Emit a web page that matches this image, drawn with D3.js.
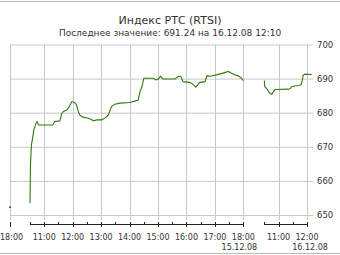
<!DOCTYPE html>
<html>
<head>
<meta charset="utf-8">
<script src="https://cdn.jsdelivr.net/npm/d3@7"></script>
<style>
  body { margin: 0; background: #fff; }
  text { font-family: "DejaVu Sans", Verdana, sans-serif; fill: #333; }
</style>
</head>
<body>
<script>
// chart values
const title = 'Индекс РТС (RTSI)';
const subtitle = 'Последнее значение: 691.24 на 16.12.08 12:10';

const prevCloseTime = '12.12.08 18:00';
const prevCloseValue = 652.3;

const day1Times = ['10:30','10:31','10:33','10:36','10:38','10:43','10:45','10:48','11:18','11:22',
  '11:33','11:37','11:40','11:47','11:51','11:54','11:58','12:01','12:05','12:08',
  '12:12','12:15','12:22','12:33','12:40','12:43','12:51','13:01','13:08','13:15',
  '13:22','13:29','13:40','14:01','14:11','14:18','14:22','14:26','14:30','14:50',
  '14:56','15:01','15:05','15:10','15:36','15:43','15:48','15:53','16:07','16:14',
  '16:20','16:25','16:28','16:39','16:43','16:50','17:03','17:17','17:28','17:35',
  '17:42','17:49','17:56','18:00'];
const day1Values = [653.5,664.7,670.5,673.0,674.9,677.0,677.4,676.4,676.4,677.4,
  677.6,679.8,680.3,680.8,681.3,682.1,683.2,683.2,682.8,682.3,
  680.3,679.3,678.7,678.4,678.0,677.6,677.9,677.9,678.4,679.3,
  681.8,682.5,682.8,683.0,683.4,683.7,686.2,687.6,690.1,690.1,
  689.6,689.9,690.7,689.9,689.9,690.7,690.6,689.1,688.9,688.3,
  687.5,688.4,688.9,689.1,690.8,690.7,691.1,691.6,692.1,691.6,
  691.1,690.8,690.1,689.4];

const day2Times = ['10:30','10:31','10:35','10:38','10:42','10:46','10:49','10:53','11:21','11:24',
  '11:28','11:42','11:48','11:51','11:52','11:56','12:08','12:10'];
const day2Values = [689.4,687.6,687.1,686.4,685.7,685.4,686.2,686.8,686.9,687.0,
  687.7,688.0,688.2,690.2,691.0,691.3,691.2,691.24];

const yTicks = [650, 660, 670, 680, 690, 700];
const day1Label = '15.12.08';
const day2Label = '16.12.08';

// layout
const width = 340, height = 255;
const plotLeft = 10, plotRight = 307, plotTop = 44.5, plotBottom = 215;
const axisY = 224;
const hourW = 28.45;

const parse = d3.timeParse('%d.%m.%y %H:%M');
const fmt = d3.timeFormat('%H:%M');

const day1 = day1Times.map((t, i) => ({date: parse('15.12.08 ' + t), value: day1Values[i]}));
const day2 = day2Times.map((t, i) => ({date: parse('16.12.08 ' + t), value: day2Values[i]}));

// x scale with session breaks
const x = d3.scaleTime()
  .domain([parse(prevCloseTime), parse('15.12.08 10:30'), parse('15.12.08 18:00'),
           parse('16.12.08 10:30'), parse('16.12.08 12:00')])
  .range([plotLeft, 30, 30 + 7.5 * hourW, plotRight - 1.5 * hourW, plotRight]);

const y = d3.scaleLinear()
  .domain([650, 700])
  .range([plotBottom, plotTop]);

const svg = d3.select('body').append('svg')
  .attr('width', width)
  .attr('height', height);

// frame lines
svg.append('line').attr('x1', 0).attr('x2', width).attr('y1', 1.5).attr('y2', 1.5)
  .attr('stroke', '#bbb');
svg.append('line').attr('x1', 0).attr('x2', width).attr('y1', 253.5).attr('y2', 253.5)
  .attr('stroke', '#bbb');

// titles
svg.append('text').attr('x', 170).attr('y', 23.5).attr('text-anchor', 'middle')
  .style('font-size', '11px').text(title);
svg.append('text').attr('x', 170).attr('y', 36).attr('text-anchor', 'middle')
  .style('font-size', '9px').text(subtitle);

// hour grid
const hourTimes = [parse(prevCloseTime)]
  .concat(d3.timeHour.range(parse('15.12.08 11:00'), parse('15.12.08 18:01')))
  .concat(d3.timeHour.range(parse('16.12.08 11:00'), parse('16.12.08 12:01')));

svg.append('g').selectAll('line')
  .data(hourTimes)
  .enter()
  .append('line')
  .attr('x1', d => Math.round(x(d)) + 0.5)
  .attr('x2', d => Math.round(x(d)) + 0.5)
  .attr('y1', plotTop)
  .attr('y2', 220)
  .attr('stroke', '#c8c8c8');

// value grid + right labels
const yAxis = d3.axisRight(y)
  .tickValues(yTicks)
  .tickSize(plotRight + 6 - plotLeft)
  .tickPadding(4)
  .tickFormat(d3.format('d'));

svg.append('g')
  .attr('transform', 'translate(' + plotLeft + ',0)')
  .call(yAxis)
  .call(g => g.select('.domain').remove())
  .call(g => g.selectAll('.tick line').attr('stroke', '#c8c8c8'))
  .call(g => g.selectAll('.tick text').style('font-size', '8.5px').attr('fill', '#333'));

// time axis segments
const sessions = [
  [parse('15.12.08 10:30'), parse('15.12.08 18:00')],
  [parse('16.12.08 10:30'), parse('16.12.08 12:00')]
];

sessions.forEach(s => {
  svg.append('line')
    .attr('x1', x(s[0])).attr('x2', x(s[1]))
    .attr('y1', axisY + 0.5).attr('y2', axisY + 0.5)
    .attr('stroke', '#222');

  const halfHours = d3.timeMinute.every(30).range(s[0], new Date(+s[1] + 1));
  svg.append('g').selectAll('line')
    .data(halfHours)
    .enter()
    .append('line')
    .attr('x1', d => Math.round(x(d)) + 0.5)
    .attr('x2', d => Math.round(x(d)) + 0.5)
    .attr('y1', axisY - 2)
    .attr('y2', d => d.getMinutes() === 0 ? axisY + 3 : axisY + 1)
    .attr('stroke', '#222');
});

// tick for previous close
svg.append('line')
  .attr('x1', Math.round(x(parse(prevCloseTime))) + 0.5)
  .attr('x2', Math.round(x(parse(prevCloseTime))) + 0.5)
  .attr('y1', axisY - 2).attr('y2', axisY + 3)
  .attr('stroke', '#222');

// hour labels
svg.append('g').selectAll('text')
  .data(hourTimes)
  .enter()
  .append('text')
  .attr('x', (d, i) => i === 0 ? 0 : x(d))
  .attr('y', 240)
  .attr('text-anchor', (d, i) => i === 0 ? 'start' : 'middle')
  .style('font-size', '8px')
  .text(d => fmt(d));

svg.append('text').attr('x', x(parse('15.12.08 18:00')) - 4).attr('y', 249.5)
  .attr('text-anchor', 'middle').style('font-size', '8px').text(day1Label);
svg.append('text').attr('x', x(parse('16.12.08 12:00')) + 3).attr('y', 249.5)
  .attr('text-anchor', 'middle').style('font-size', '8px').text(day2Label);

// price line
const line = d3.line()
  .x(d => x(d.date))
  .y(d => y(d.value));

[day1, day2].forEach(day => {
  svg.append('path')
    .datum(day)
    .attr('d', line)
    .attr('fill', 'none')
    .attr('stroke', '#2f7a12')
    .attr('stroke-width', 1.1);
});

// previous close point
svg.append('circle')
  .attr('cx', x(parse(prevCloseTime)))
  .attr('cy', y(prevCloseValue))
  .attr('r', 0.9)
  .attr('fill', '#333');
</script>
</body>
</html>
